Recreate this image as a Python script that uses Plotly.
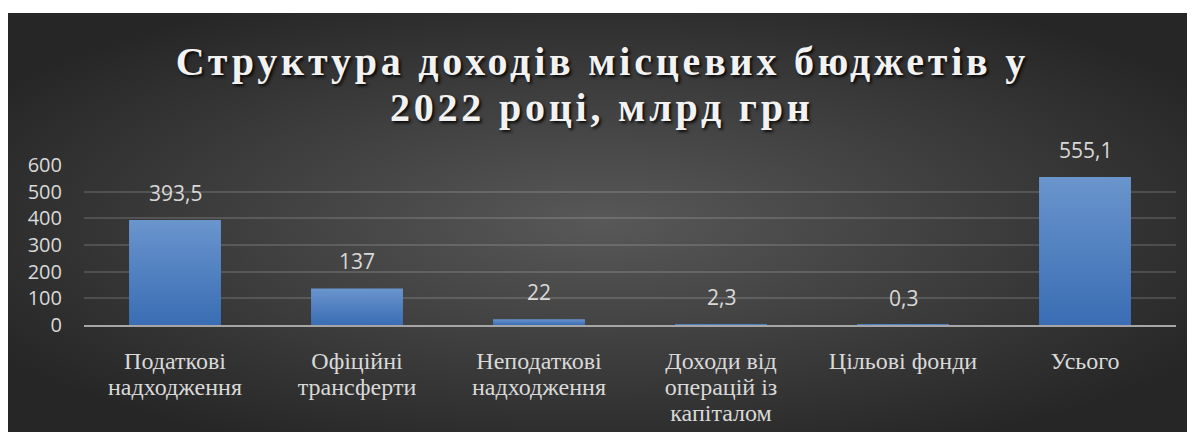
import base64
import plotly.graph_objects as go

categories = ["Податкові<br>надходження", "Офіційні<br>трансферти", "Неподаткові<br>надходження",
              "Доходи від<br>операцій із<br>капіталом", "Цільові фонди", "Усього"]
values = [393.5, 137, 22, 2.3, 0.3, 555.1]
value_labels = ["393,5", "137", "22", "2,3", "0,3", "555,1"]
title_lines = ["Структура доходів місцевих бюджетів у", "2022 році, млрд грн"]
y_ticks = [0, 100, 200, 300, 400, 500, 600]

# page is 1195x432 with the default 8px body margin -> figure occupies 8..1195, 8..432
W, H = 1187, 424
ML, MR, MT, MB = 76, 19, 157, 107
PW, PH = W - ML - MR, H - MT - MB

def px_x(p):  # reference page pixel -> paper
    return (p - 84) / PW

def px_y(p):
    return (325 - p) / PH

bg_w, bg_h = 1187, 419
svg = f'''<svg xmlns="http://www.w3.org/2000/svg" width="{bg_w}" height="{bg_h}" viewBox="0 0 {bg_w} {bg_h}" preserveAspectRatio="none">
<defs><radialGradient id="g" cx="0.5" cy="0.5" r="0.6">
<stop offset="0" stop-color="#585858"/><stop offset="1" stop-color="#262626"/></radialGradient></defs>
<rect width="{bg_w}" height="{bg_h}" fill="url(#g)"/></svg>'''
bg_uri = "data:image/svg+xml;base64," + base64.b64encode(svg.encode()).decode()

fig = go.Figure()
fig.add_trace(go.Bar(x=categories, y=values, marker=dict(color="#4d7ec2", line=dict(width=0)),
                     hoverinfo="skip"))

annotations = []
for c, v, t in zip(categories, values, value_labels):
    annotations.append(dict(x=c, y=v, xref="x", yref="y", text=t, showarrow=False,
                            yanchor="bottom", yshift=11,
                            font=dict(family="Open Sans", size=21, color="#d9d9d9")))
for i, line in enumerate(title_lines):
    annotations.append(dict(x=px_x(602), y=px_y([61, 107][i]), xref="paper", yref="paper",
                            text="<b>" + line + "</b>", showarrow=False, yanchor="middle",
                            xanchor="center",
                            font=dict(family="Liberation Serif", size=40, color="#f2f2f2",
                                      shadow="2px 2px 3px rgba(0,0,0,0.85)")))

fig.update_layout(
    width=W, height=H, autosize=False,
    margin=dict(l=ML, r=MR, t=MT, b=MB, autoexpand=False),
    paper_bgcolor="white", plot_bgcolor="rgba(0,0,0,0)",
    showlegend=False, bargap=0.495,
    annotations=annotations,
    images=[dict(source=bg_uri, xref="paper", yref="paper", x=px_x(8), y=px_y(13),
                 sizex=bg_w / PW, sizey=bg_h / PH, xanchor="left", yanchor="top",
                 sizing="stretch", layer="below")],
    xaxis=dict(showgrid=False, showline=True, linecolor="#a6a6a6", linewidth=2,
               ticks="", ticklabelstandoff=13, automargin=False,
               tickfont=dict(family="Liberation Serif", size=24, color="#d9d9d9")),
    yaxis=dict(range=[0, 600], tickvals=y_ticks, showgrid=True, automargin=False,
               gridcolor="rgba(255,255,255,0.14)", gridwidth=1.5, zeroline=False,
               showline=False, ticks="", ticklabelstandoff=21,
               tickfont=dict(family="Open Sans", size=20, color="#d9d9d9")),
)

post = """
var gd = document.getElementById('{plot_id}');
var ns = 'http://www.w3.org/2000/svg';
var svgEl = gd.querySelector('svg.main-svg');
var defs = svgEl.querySelector('defs');
var lg = document.createElementNS(ns, 'linearGradient');
lg.setAttribute('id', 'bargrad'); lg.setAttribute('x1', '0'); lg.setAttribute('y1', '0');
lg.setAttribute('x2', '0'); lg.setAttribute('y2', '1');
[['0', '#6a95cd'], ['1', '#3a6db4']].forEach(function(s){
  var st = document.createElementNS(ns, 'stop');
  st.setAttribute('offset', s[0]); st.setAttribute('stop-color', s[1]); lg.appendChild(st);
});
defs.appendChild(lg);
gd.querySelectorAll('.bars .point path').forEach(function(p){ p.style.fill = 'url(#bargrad)'; });
gd.querySelectorAll('.annotation-text').forEach(function(t){
  var s = t.textContent;
  if (s.indexOf('Структура') === 0 || s.indexOf('2022') === 0) { t.style.letterSpacing = '3.8px'; }
});
gd.querySelectorAll('.xtick text tspan.line').forEach(function(ts){
  var dy = ts.getAttribute('dy');
  if (dy) { var v = parseFloat(dy); if (v > 0) { ts.setAttribute('dy', (v * 1.09 / 1.3) + 'em'); } }
});
"""
fig.write_html("out.html", post_script=post, config={"responsive": False, "displayModeBar": False})
